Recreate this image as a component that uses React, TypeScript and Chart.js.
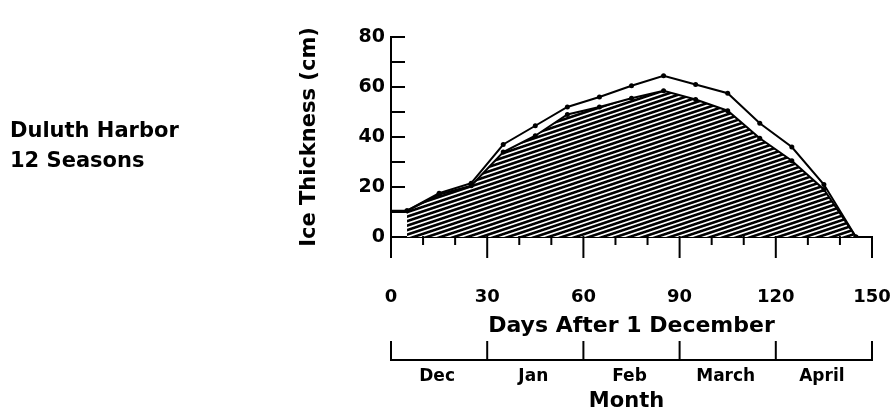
import React, { useEffect, useRef } from 'react';
import { Chart, registerables } from 'chart.js';

Chart.register(...registerables);

// ---- data ----
const outerDays = [0, 5, 15, 25, 35, 45, 55, 65, 75, 85, 95, 105, 115, 125, 135, 145];
const outerThickness = [10.5, 10.5, 17.5, 21.5, 37, 44.5, 52, 56, 60.5, 64.5, 61, 57.5, 45.5, 36, 21, 0];
const innerDays = [5, 15, 25, 35, 45, 55, 65, 75, 85, 95, 105, 115, 125, 135, 145];
const innerThickness = [10.5, 17, 20.5, 34, 40.5, 49, 52, 55.5, 58.5, 55, 50.5, 39.5, 30.5, 19, 0];
const monthNames = ['Dec', 'Jan', 'Feb', 'March', 'April'];
const monthBounds = [0, 30, 60, 90, 120, 150];
const xLabelStep = 30;
const yLabelStep = 20;
const sideLabel = ['Duluth Harbor', '12 Seasons'];
const xTitle = 'Days After 1 December';
const yTitle = 'Ice Thickness (cm)';
const monthTitle = 'Month';

const FAMILY = "'DejaVu Sans', sans-serif";

function makeHatch(): CanvasPattern | string {
  const W = 27, H = 9, P = 4.5;
  const c = document.createElement('canvas');
  c.width = W;
  c.height = H;
  const ctx = c.getContext('2d');
  if (!ctx) return '#444';
  const img = ctx.createImageData(W, H);
  for (let y = 0; y < H; y++) {
    for (let x = 0; x < W; x++) {
      let cov = 0;
      for (let sy = 0; sy < 4; sy++) {
        for (let sx = 0; sx < 4; sx++) {
          const px = x + (sx + 0.5) / 4;
          const py = y + (sy + 0.5) / 4;
          let ph = (py + px / 3) % P;
          if (ph < 0) ph += P;
          if (ph < 2.7) cov++;
        }
      }
      const v = 255 - Math.round((255 * cov) / 16);
      const i = (y * W + x) * 4;
      img.data[i] = v;
      img.data[i + 1] = v;
      img.data[i + 2] = v;
      img.data[i + 3] = 255;
    }
  }
  ctx.putImageData(img, 0, 0);
  return ctx.createPattern(c, 'repeat') || '#444';
}

const decorPlugin = {
  id: 'decor',
  afterDraw(chart: any) {
    const { ctx } = chart;
    const xs = chart.scales.x;
    const ys = chart.scales.y;
    ctx.save();
    ctx.strokeStyle = '#000';
    ctx.fillStyle = '#000';
    ctx.lineWidth = 2;
    ctx.lineCap = 'butt';

    // inward ticks on y axis
    ys.ticks.forEach((t: any) => {
      const py = ys.getPixelForValue(t.value);
      ctx.beginPath();
      ctx.moveTo(xs.left, py);
      ctx.lineTo(xs.left + 14, py);
      ctx.stroke();
    });

    // ticks on x axis: long at labelled values, short otherwise
    xs.ticks.forEach((t: any) => {
      const px = xs.getPixelForValue(t.value);
      const len = t.value % xLabelStep === 0 ? 21 : 8;
      ctx.beginPath();
      ctx.moveTo(px, ys.bottom - 1);
      ctx.lineTo(px, ys.bottom + len);
      ctx.stroke();
    });

    // month bracket
    const yB = 360;
    ctx.beginPath();
    ctx.moveTo(xs.getPixelForValue(monthBounds[0]) - 1, yB);
    ctx.lineTo(xs.getPixelForValue(monthBounds[monthBounds.length - 1]) + 1, yB);
    ctx.stroke();
    monthBounds.forEach((b) => {
      const px = xs.getPixelForValue(b);
      ctx.beginPath();
      ctx.moveTo(px, yB - 19);
      ctx.lineTo(px, yB);
      ctx.stroke();
    });
    ctx.font = `bold 17px ${FAMILY}`;
    ctx.textAlign = 'center';
    ctx.textBaseline = 'middle';
    monthNames.forEach((m, i) => {
      const mid = (monthBounds[i] + monthBounds[i + 1]) / 2;
      ctx.fillText(m, xs.getPixelForValue(mid) - 2, 377);
    });
    ctx.font = `bold 21px ${FAMILY}`;
    ctx.fillText(monthTitle, (xs.left + xs.right) / 2 - 5, 402);

    // side label
    ctx.font = `bold 21px ${FAMILY}`;
    ctx.textAlign = 'left';
    ctx.textBaseline = 'alphabetic';
    ctx.fillText(sideLabel[0], 10, 137);
    ctx.fillText(sideLabel[1], 10, 167);
    ctx.restore();
  },
};

export default function App() {
  const ref = useRef<HTMLCanvasElement>(null);
  useEffect(() => {
    if (!ref.current) return;
    const hatch = makeHatch();
    const chart = new Chart(ref.current, {
      type: 'line',
      data: {
        datasets: [
          {
            label: 'outer',
            data: outerDays.map((d, i) => ({ x: d, y: outerThickness[i] })),
            borderColor: '#000',
            borderWidth: 2,
            backgroundColor: '#000',
            pointBackgroundColor: '#000',
            pointBorderWidth: 0,
            pointRadius: (c: any) => (c.dataIndex === 0 ? 0 : 2.5),
            fill: false,
            tension: 0,
          },
          {
            label: 'inner',
            data: innerDays.map((d, i) => ({ x: d, y: innerThickness[i] })),
            borderColor: '#000',
            borderWidth: 2,
            backgroundColor: hatch as any,
            pointBackgroundColor: '#000',
            pointBorderWidth: 0,
            pointRadius: 2.5,
            fill: 'origin',
            tension: 0,
          },
        ],
      },
      options: {
        responsive: false,
        animation: false,
        layout: { padding: { left: 0, top: 37, right: 19, bottom: 0 } },
        plugins: { legend: { display: false }, tooltip: { enabled: false } },
        scales: {
          x: {
            type: 'linear',
            position: 'bottom',
            min: 0,
            max: 150,
            afterFit: (s: any) => {
              s.height = 180;
            },
            border: { display: true, color: '#000', width: 2 },
            grid: {
              drawOnChartArea: false,
              drawTicks: true,
              tickLength: 50,
              tickWidth: 0,
              tickColor: 'rgba(0,0,0,0)',
            },
            ticks: {
              stepSize: 10,
              autoSkip: false,
              maxRotation: 0,
              padding: 0,
              color: '#000',
              font: { family: FAMILY, size: 18, weight: 'bold' },
              callback: (v: any) => (Number(v) % xLabelStep === 0 ? String(v) : ''),
            },
            title: {
              display: true,
              text: xTitle,
              color: '#000',
              font: { family: FAMILY, size: 22, weight: 'bold' },
              padding: { top: 0, bottom: 78 },
            },
          },
          y: {
            type: 'linear',
            position: 'left',
            min: 0,
            max: 80,
            afterFit: (s: any) => {
              s.width = 391;
            },
            border: { display: true, color: '#000', width: 2 },
            grid: { drawOnChartArea: false, drawTicks: false },
            ticks: {
              stepSize: 10,
              autoSkip: false,
              padding: 6,
              color: '#000',
              font: { family: FAMILY, size: 19, weight: 'bold' },
              callback: (v: any) => (Number(v) % yLabelStep === 0 ? String(v) : ''),
            },
            title: {
              display: true,
              text: yTitle,
              color: '#000',
              font: { family: FAMILY, size: 21, weight: 'bold' },
              padding: { top: 297, bottom: 0 },
            },
          },
        },
      },
      plugins: [decorPlugin],
    });
    return () => chart.destroy();
  }, []);
  return (
    <div style={{ position: 'fixed', left: 0, top: 0, width: 891, height: 417, background: '#fff' }}>
      <canvas ref={ref} width={891} height={417} style={{ display: 'block' }} />
    </div>
  );
}
